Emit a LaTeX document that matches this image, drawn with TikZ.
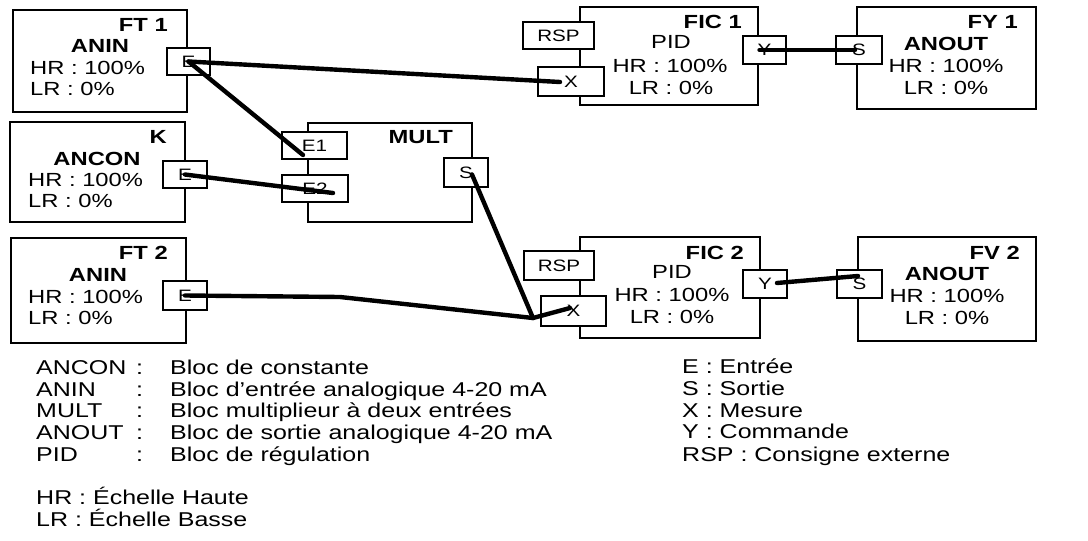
\documentclass[tikz,border=0pt]{standalone}
\usepackage{fontspec}
\setmainfont{Liberation Sans}[FakeStretch=1.25]

\tikzset{
  blockbox/.style={draw, line width=1.2pt, inner sep=0pt},
  portbox/.style={draw, line width=1.2pt, fill=white, inner sep=0pt, font=\fontsize{16.5}{18}\selectfont},
  txt/.style={inner sep=0pt, font=\fontsize{19}{21}\selectfont},
  headtxt/.style={inner sep=0pt, font=\fontsize{19}{21}\selectfont\bfseries},
  legtxt/.style={inner sep=0pt, anchor=mid west, font=\fontsize{20}{22}\selectfont},
  wire/.style={line width=4.4pt, line cap=round, line join=round}
}

\begin{document}
\begin{tikzpicture}[x=1pt, y=-1pt]
    \useasboundingbox (0,0) rectangle (1088,541);

    % blocks
    \node[blockbox, minimum width=174pt, minimum height=102pt] (ft1) at (100,61) {};
    \node[blockbox, minimum width=175pt, minimum height=100pt] (k) at (97.5,172) {};
    \node[blockbox, minimum width=175pt, minimum height=105pt] (ft2) at (98.5,290.5) {};
    \node[blockbox, minimum width=164pt, minimum height=99pt] (mult) at (390,172.5) {};
    \node[blockbox, minimum width=178pt, minimum height=98pt] (fic1) at (669,56) {};
    \node[blockbox, minimum width=179pt, minimum height=102pt] (fy1) at (946.5,58) {};
    \node[blockbox, minimum width=180pt, minimum height=101pt] (fic2) at (670,287.5) {};
    \node[blockbox, minimum width=178pt, minimum height=104pt] (fv2) at (947,289) {};

    % block texts
    \node[headtxt, anchor=mid east] (ft1name) at (168,29) {FT 1};
    \node[headtxt, anchor=mid] (ft1type) at (100,50) {ANIN};
    \node[txt, anchor=mid west] (ft1hr) at (30,72) {HR : 100\%};
    \node[txt, anchor=mid west] (ft1lr) at (30,93) {LR : 0\%};

    \node[headtxt, anchor=mid east] (kname) at (167,141) {K};
    \node[headtxt, anchor=mid] (ktype) at (97,163) {ANCON};
    \node[txt, anchor=mid west] (khr) at (28,184) {HR : 100\%};
    \node[txt, anchor=mid west] (klr) at (28,205) {LR : 0\%};

    \node[headtxt, anchor=mid east] (ft2name) at (168,257) {FT 2};
    \node[headtxt, anchor=mid] (ft2type) at (98,279) {ANIN};
    \node[txt, anchor=mid west] (ft2hr) at (28,301) {HR : 100\%};
    \node[txt, anchor=mid west] (ft2lr) at (28,322) {LR : 0\%};

    \node[headtxt, anchor=mid east] (multname) at (453,141) {MULT};

    \node[headtxt, anchor=mid east] (fic1name) at (742,26) {FIC 1};
    \node[txt, anchor=mid] (fic1type) at (671,46) {PID};
    \node[txt, anchor=mid] (fic1hr) at (670,70) {HR : 100\%};
    \node[txt, anchor=mid] (fic1lr) at (671,92) {LR : 0\%};

    \node[headtxt, anchor=mid east] (fy1name) at (1018,26) {FY 1};
    \node[headtxt, anchor=mid] (fy1type) at (946,48) {ANOUT};
    \node[txt, anchor=mid] (fy1hr) at (946,70) {HR : 100\%};
    \node[txt, anchor=mid] (fy1lr) at (946,92) {LR : 0\%};

    \node[headtxt, anchor=mid east] (fic2name) at (744,257) {FIC 2};
    \node[txt, anchor=mid] (fic2type) at (672,276) {PID};
    \node[txt, anchor=mid] (fic2hr) at (672,299) {HR : 100\%};
    \node[txt, anchor=mid] (fic2lr) at (672,321) {LR : 0\%};

    \node[headtxt, anchor=mid east] (fv2name) at (1020,257) {FV 2};
    \node[headtxt, anchor=mid] (fv2type) at (947,278) {ANOUT};
    \node[txt, anchor=mid] (fv2hr) at (947,300) {HR : 100\%};
    \node[txt, anchor=mid] (fv2lr) at (947,322) {LR : 0\%};

    % ports
    \node[portbox, minimum width=43pt, minimum height=27pt] (ft1e) at (188.5,61.5) {E};
    \node[portbox, minimum width=44pt, minimum height=27pt] (ke) at (185,174.5) {E};
    \node[portbox, minimum width=44pt, minimum height=29pt] (ft2e) at (185,295.5) {E};
    \node[portbox, minimum width=65pt, minimum height=27pt] (multe1) at (314.5,145.5) {E1};
    \node[portbox, minimum width=66pt, minimum height=27pt] (multe2) at (315,188.5) {E2};
    \node[portbox, minimum width=44pt, minimum height=29pt] (mults) at (466,172.5) {S};
    \node[portbox, minimum width=71pt, minimum height=27pt] (fic1rsp) at (558.5,35.5) {RSP};
    \node[portbox, minimum width=66pt, minimum height=29pt] (fic1x) at (571,81.5) {X};
    \node[portbox, minimum width=43pt, minimum height=28pt] (fic1y) at (764.5,50) {Y};
    \node[portbox, minimum width=46pt, minimum height=28pt] (fy1s) at (859,50) {S};
    \node[portbox, minimum width=70pt, minimum height=29pt] (fic2rsp) at (559,265.5) {RSP};
    \node[portbox, minimum width=65pt, minimum height=30pt] (fic2x) at (573.5,311) {X};
    \node[portbox, minimum width=44pt, minimum height=28pt] (fic2y) at (765,284) {Y};
    \node[portbox, minimum width=45pt, minimum height=28pt] (fv2s) at (859.5,284) {S};

    % wiring
    \coordinate (xjoin) at (533,318);
    \coordinate (ft2bend) at (340,297);
    \draw[wire] (ft1e.center) -- ([shift={(-11,0.5)}]fic1x.center);
    \draw[wire] (ft1e.center) -- ([shift={(-11.5,9.5)}]multe1.center);
    \draw[wire] (ke.center) -- ([shift={(18,4.5)}]multe2.center);
    \draw[wire] ([shift={(6,2)}]mults.center) -- (xjoin);
    \draw[wire] (ft2e.center) -- (ft2bend) -- (xjoin) -- ([shift={(-3.5,-3)}]fic2x.center);
    \draw[wire] ([shift={(-5,0)}]fic1y.center) -- ([shift={(-4,0)}]fy1s.center);
    \draw[wire] ([shift={(12,-1)}]fic2y.center) -- ([shift={(-1.5,-8)}]fv2s.center);

    % legend
    \node[legtxt] (leg1a) at (36,372) {ANCON};
    \node[legtxt] (leg1b) at (136,372) {:};
    \node[legtxt] (leg1c) at (170,372) {Bloc de constante};
    \node[legtxt] (leg2a) at (36,394) {ANIN};
    \node[legtxt] (leg2b) at (136,394) {:};
    \node[legtxt] (leg2c) at (170,394) {Bloc d'entrée analogique 4-20 mA};
    \node[legtxt] (leg3a) at (36,415) {MULT};
    \node[legtxt] (leg3b) at (136,415) {:};
    \node[legtxt] (leg3c) at (170,415) {Bloc multiplieur à deux entrées};
    \node[legtxt] (leg4a) at (36,437) {ANOUT};
    \node[legtxt] (leg4b) at (136,437) {:};
    \node[legtxt] (leg4c) at (170,437) {Bloc de sortie analogique 4-20 mA};
    \node[legtxt] (leg5a) at (36,459) {PID};
    \node[legtxt] (leg5b) at (136,459) {:};
    \node[legtxt] (leg5c) at (170,459) {Bloc de régulation};
    \node[legtxt] (leghr) at (36,502) {HR : Échelle Haute};
    \node[legtxt] (leglr) at (36,524) {LR : Échelle Basse};

    \node[legtxt] (lege) at (682,371) {E : Entrée};
    \node[legtxt] (legs) at (682,393) {S : Sortie};
    \node[legtxt] (legx) at (682,415) {X : Mesure};
    \node[legtxt] (legy) at (682,436) {Y : Commande};
    \node[legtxt] (legrsp) at (682,459) {RSP : Consigne externe};
\end{tikzpicture}
\end{document}
